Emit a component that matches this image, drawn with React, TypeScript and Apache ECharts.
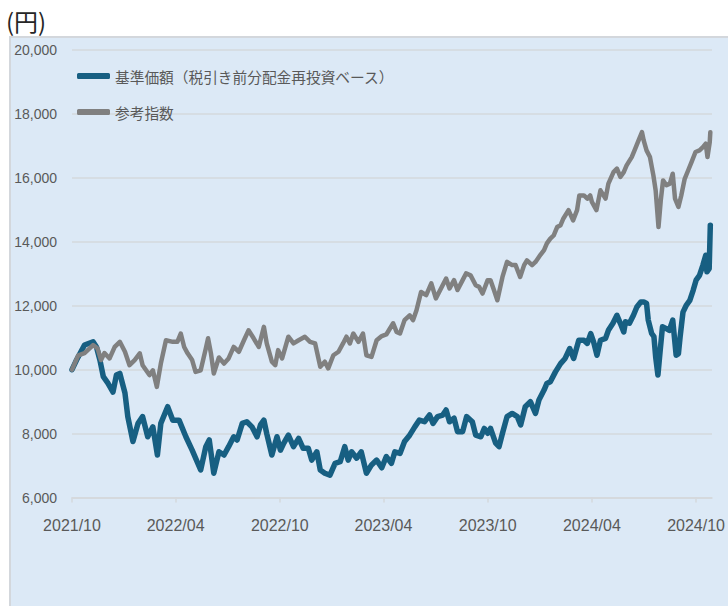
import React, { useEffect, useRef } from "react";
import * as echarts from "echarts";

const unitLabel = "(円)";
const seriesNames = ["基準価額（税引き前分配金再投資ベース）", "参考指数"];
const xTickLabels = ["2021/10", "2022/04", "2022/10", "2023/04", "2023/10", "2024/04", "2024/10"];
const yMin = 6000;
const yMax = 20000;
const yStep = 2000;
const xStart = "2021-10-01";
const xEnd = "2024-10-29";

const fundDates = [
  "2021-10-01","2021-10-09","2021-10-23","2021-11-07","2021-11-13","2021-11-19","2021-11-25","2021-12-03","2021-12-12","2021-12-18","2021-12-24",
  "2022-01-02","2022-01-07","2022-01-16","2022-01-25","2022-02-02","2022-02-11","2022-02-20","2022-02-28","2022-03-06","2022-03-18","2022-03-27",
  "2022-04-07","2022-04-19","2022-04-30","2022-05-15","2022-05-24","2022-05-30","2022-06-07","2022-06-16","2022-06-25","2022-07-03","2022-07-12",
  "2022-07-18","2022-07-27","2022-08-04","2022-08-13","2022-08-22","2022-08-28","2022-09-03","2022-09-08","2022-09-17","2022-09-26","2022-10-02",
  "2022-10-08","2022-10-16","2022-10-25","2022-11-03","2022-11-11","2022-11-20","2022-11-26","2022-12-05","2022-12-11","2022-12-19","2022-12-28",
  "2023-01-06","2023-01-15","2023-01-23","2023-01-29","2023-02-04","2023-02-13","2023-02-21","2023-03-02","2023-03-11","2023-03-20","2023-03-29",
  "2023-04-06","2023-04-15","2023-04-21","2023-04-30","2023-05-08","2023-05-17","2023-05-26","2023-06-03","2023-06-12","2023-06-21","2023-06-27",
  "2023-07-05","2023-07-14","2023-07-20","2023-07-26","2023-08-03","2023-08-09","2023-08-18","2023-08-25","2023-09-04","2023-09-10","2023-09-19",
  "2023-09-25","2023-10-01","2023-10-06","2023-10-15","2023-10-21","2023-10-27","2023-11-04","2023-11-13","2023-11-22","2023-11-28","2023-12-06",
  "2023-12-15","2023-12-24","2023-12-30","2024-01-08","2024-01-13","2024-01-19","2024-01-28","2024-02-06","2024-02-14","2024-02-22","2024-02-29",
  "2024-03-09","2024-03-18","2024-03-24","2024-03-30","2024-04-04","2024-04-10","2024-04-16","2024-04-25","2024-04-30","2024-05-08","2024-05-15",
  "2024-05-21","2024-05-27","2024-05-30","2024-06-06","2024-06-13","2024-06-19","2024-06-26","2024-07-01","2024-07-06","2024-07-09","2024-07-15",
  "2024-07-19","2024-07-22","2024-07-26","2024-07-30","2024-08-03","2024-08-09","2024-08-15","2024-08-21","2024-08-27","2024-08-31","2024-09-03",
  "2024-09-08","2024-09-14","2024-09-20","2024-09-26","2024-10-01","2024-10-07","2024-10-13","2024-10-18","2024-10-20","2024-10-24","2024-10-26"
];
const fundValues = [
  10000,10300,10770,10870,10710,10300,9780,9580,9300,9830,9880,
  9270,8530,7750,8320,8530,7900,8210,7330,8320,8840,8420,
  8420,7900,7480,6860,7590,7800,6760,7430,7330,7590,7900,
  7800,8320,8370,8210,7900,8270,8420,8000,7330,7900,7480,
  7700,7950,7590,7850,7540,7540,7170,7430,6860,6760,6700,
  7070,7120,7590,7170,7430,7230,7430,6760,7020,7170,6930,
  7280,7070,7430,7380,7750,7950,8210,8420,8370,8580,8320,
  8530,8580,8740,8370,8480,8060,8060,8530,8370,7950,7900,
  8160,8010,8160,7700,7590,8010,8530,8630,8530,8270,8840,
  9000,8630,9050,9360,9570,9620,9930,10190,10350,10660,10350,
  10920,10920,10820,11130,10870,10450,10920,10980,11230,11450,11700,
  11450,11180,11500,11450,11700,11960,12120,12120,12070,11550,11130,
  11030,10400,9830,10610,11340,11290,11230,11550,10450,10500,11030,
  11800,12020,12170,12490,12800,12950,13270,13580,13060,13160,14520
];

const indexDates = [
  "2021-10-01","2021-10-12","2021-10-23","2021-11-07","2021-11-15","2021-11-21","2021-11-27","2021-12-06","2021-12-15","2021-12-24",
  "2022-01-02","2022-01-10","2022-01-19","2022-01-28","2022-02-02","2022-02-14","2022-02-20","2022-02-27","2022-03-06","2022-03-15",
  "2022-03-27","2022-04-04","2022-04-10","2022-04-16","2022-04-22","2022-04-30","2022-05-06","2022-05-15","2022-05-24","2022-05-28",
  "2022-06-02","2022-06-07","2022-06-16","2022-06-25","2022-07-03","2022-07-12","2022-07-21","2022-07-30","2022-08-07","2022-08-16",
  "2022-08-25","2022-09-03","2022-09-08","2022-09-17","2022-09-23","2022-09-28","2022-10-05","2022-10-16","2022-10-25","2022-11-03",
  "2022-11-14","2022-11-23","2022-12-02","2022-12-11","2022-12-19","2022-12-25","2023-01-03","2023-01-12","2023-01-20","2023-01-26",
  "2023-02-01","2023-02-07","2023-02-16","2023-02-24","2023-03-02","2023-03-11","2023-03-20","2023-03-29","2023-04-06","2023-04-18",
  "2023-04-24","2023-04-30","2023-05-08","2023-05-17","2023-05-23","2023-05-29","2023-06-06","2023-06-15","2023-06-24","2023-07-02",
  "2023-07-11","2023-07-20","2023-07-26","2023-08-03","2023-08-09","2023-08-18","2023-08-24","2023-09-01","2023-09-10","2023-09-16",
  "2023-09-22","2023-10-01","2023-10-06","2023-10-12","2023-10-18","2023-10-27","2023-11-04","2023-11-13","2023-11-19","2023-11-27",
  "2023-12-04","2023-12-09","2023-12-18","2023-12-24","2024-01-02","2024-01-08","2024-01-13","2024-01-19","2024-01-25","2024-01-31",
  "2024-02-06","2024-02-11","2024-02-20","2024-02-28","2024-03-06","2024-03-10","2024-03-18","2024-03-24","2024-03-29","2024-04-01",
  "2024-04-09","2024-04-16","2024-04-25","2024-04-30","2024-05-09","2024-05-15","2024-05-21","2024-05-27","2024-06-01","2024-06-10",
  "2024-06-16","2024-06-22","2024-06-28","2024-07-01","2024-07-06","2024-07-12","2024-07-18","2024-07-22","2024-07-27","2024-07-31",
  "2024-08-04","2024-08-10","2024-08-16","2024-08-21","2024-08-25","2024-08-31","2024-09-05","2024-09-11","2024-09-17","2024-09-23",
  "2024-09-30","2024-10-07","2024-10-13","2024-10-18","2024-10-21","2024-10-25","2024-10-26"
];
const indexValues = [
  10000,10450,10520,10770,10660,10300,10520,10350,10710,10870,
  10560,10140,10300,10510,10140,9830,9980,9460,10190,10920,
  10870,10870,11130,10710,10510,10300,9930,9980,10660,10980,
  10510,9880,10380,10190,10350,10710,10560,10920,11230,10980,
  10710,11340,10820,10250,10140,10610,10350,11030,10820,10920,
  11030,10870,10820,10090,10250,10040,10450,10560,10820,11030,
  10820,11130,10870,11130,10450,10400,10920,11050,11100,11450,
  11180,11130,11550,11700,11550,11860,12430,12330,12700,12230,
  12540,12850,12540,12800,12490,12800,13010,12950,12640,12590,
  12380,12800,12800,12490,12170,12900,13370,13270,13270,12900,
  13270,13420,13270,13370,13600,13740,13950,14100,14200,14460,
  14520,14730,14990,14670,14990,15450,15450,15350,15450,15250,
  14990,15610,15350,15820,16180,16290,16030,16180,16390,16650,
  16910,17170,17430,17170,16860,16650,16080,15610,14460,15300,
  15920,15770,15820,16130,15350,15090,15450,15970,16230,16490,
  16810,16860,16960,17070,16650,17120,17430
];

const numFont = "'Liberation Sans', Arial, sans-serif";
const cjkFont = "'Noto Sans CJK JP', 'Noto Sans', sans-serif";

function toTime(s: string): number {
  const parts = s.split(/[-/]/).map(Number);
  return new Date(parts[0], parts[1] - 1, parts[2] || 1).getTime();
}

export default function App() {
  const ref = useRef<HTMLDivElement>(null);
  useEffect(() => {
    if (!ref.current) return;
    const chart = echarts.init(ref.current, undefined, { renderer: "svg" });
    const tickTimes = xTickLabels.map(toTime);
    const fundData = fundDates.map((d, i) => [toTime(d), fundValues[i]]);
    const indexData = indexDates.map((d, i) => [toTime(d), indexValues[i]]);
    chart.setOption({
      animation: false,
      backgroundColor: "#ffffff",
      graphic: [
        {
          type: "rect",
          z: -100,
          silent: true,
          shape: { x: 10, y: 37, width: 740, height: 600 },
          style: { fill: "#dce9f6", stroke: "#d3d7dc", lineWidth: 2 },
        },
        {
          type: "text",
          x: 6,
          y: 8,
          silent: true,
          style: { text: unitLabel, fontSize: 24, fontFamily: cjkFont, fill: "#262626" },
        },
      ],
      grid: { left: 72, right: 13, top: 50, bottom: 108.5, containLabel: false },
      legend: {
        orient: "vertical",
        left: 77,
        top: 66,
        padding: 0,
        itemWidth: 33,
        itemHeight: 6,
        itemGap: 16,
        icon: "roundRect",
        data: seriesNames,
        textStyle: { color: "#595959", fontSize: 14.7, fontFamily: cjkFont, lineHeight: 20 },
      },
      xAxis: {
        type: "value",
        min: toTime(xStart),
        max: toTime(xEnd),
        axisLine: { show: true, onZero: false, lineStyle: { color: "#d5d8dc", width: 1.5 } },
        axisTick: { show: true, length: 5, customValues: tickTimes, lineStyle: { color: "#d5d8dc", width: 1.5 } },
        splitLine: { show: false },
        axisLabel: {
          customValues: tickTimes,
          hideOverlap: false,
          margin: 20,
          color: "#595959",
          fontSize: 16,
          fontFamily: numFont,
          formatter: (v: number) => {
            const d = new Date(v);
            return d.getFullYear() + "/" + String(d.getMonth() + 1).padStart(2, "0");
          },
        },
      },
      yAxis: {
        type: "value",
        min: yMin,
        max: yMax,
        interval: yStep,
        axisLine: { show: false },
        axisTick: { show: false },
        splitLine: { show: true, lineStyle: { color: "#d5d8dc", width: 1.5 } },
        axisLabel: {
          margin: 15,
          color: "#595959",
          fontSize: 14,
          fontFamily: numFont,
          formatter: (v: number) => v.toLocaleString("en-US"),
        },
      },
      series: [
        {
          name: seriesNames[0],
          type: "line",
          data: fundData,
          symbol: "none",
          color: "#175f82",
          lineStyle: { width: 5.5, color: "#175f82", cap: "round", join: "round" },
          z: 2,
        },
        {
          name: seriesNames[1],
          type: "line",
          data: indexData,
          symbol: "none",
          color: "#808080",
          lineStyle: { width: 4.5, color: "#808080", cap: "round", join: "round" },
          z: 3,
        },
      ],
    });
    return () => chart.dispose();
  }, []);
  return (
    <div
      ref={ref}
      style={{ position: "fixed", left: 0, top: 0, width: 728, height: 606 }}
    />
  );
}
